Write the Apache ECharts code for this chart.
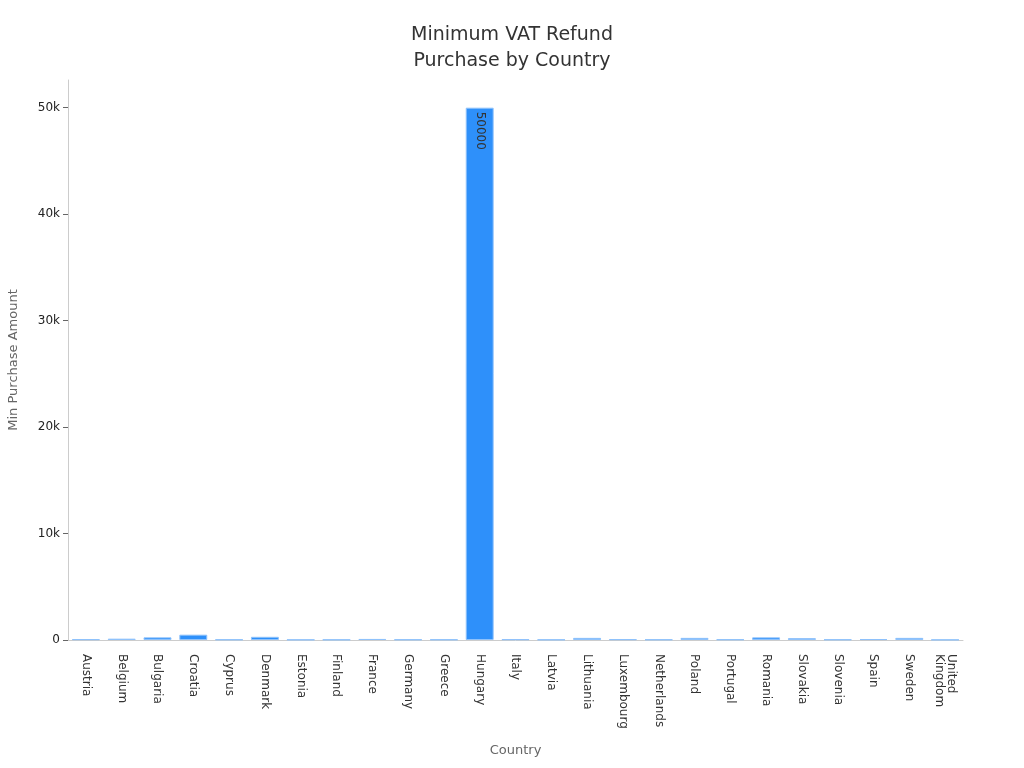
<!DOCTYPE html>
<html>
<head>
<meta charset="utf-8">
<script src="https://cdn.jsdelivr.net/npm/echarts@6/dist/echarts.min.js"></script>
<style>html,body{margin:0;padding:0;background:#fff}#c{width:1024px;height:768px}</style>
</head>
<body>
<div id="c"></div>
<script>
const categories = ["Austria","Belgium","Bulgaria","Croatia","Cyprus","Denmark","Estonia","Finland","France","Germany","Greece","Hungary","Italy","Latvia","Lithuania","Luxembourg","Netherlands","Poland","Portugal","Romania","Slovakia","Slovenia","Spain","Sweden","United\nKingdom"];
const values = [75, 125, 250, 500, 50, 300, 38, 40, 100, 50, 50, 50000, 70, 44, 200, 74, 50, 200, 61, 250, 175, 50, 90, 200, 30];
const yTicks = [0, 10000, 20000, 30000, 40000, 50000];

const chart = echarts.init(document.getElementById('c'));
chart.setOption({
  animation: false,
  title: {
    text: 'Minimum VAT Refund\nPurchase by Country',
    left: 'center', top: 17,
    textStyle: { fontFamily: 'DejaVu Sans', fontSize: 19, fontWeight: 'normal', color: '#333', lineHeight: 26 }
  },
  grid: { left: 68, right: 61, top: 80, bottom: 128, outerBoundsMode: 'none', containLabel: false },
  xAxis: {
    type: 'category',
    data: categories,
    name: 'Country',
    nameLocation: 'middle',
    nameGap: 104,
    nameTextStyle: { fontFamily: 'DejaVu Sans', fontSize: 13, color: '#666' },
    axisLine: { lineStyle: { color: '#ccc' } },
    axisTick: { alignWithLabel: true, lineStyle: { color: '#666' } },
    axisLabel: { rotate: -90, interval: 0, fontFamily: 'DejaVu Sans', fontSize: 12, color: '#333', margin: 14 }
  },
  yAxis: {
    type: 'value',
    min: 0, max: 52600, interval: 10000,
    name: 'Min Purchase Amount',
    nameLocation: 'middle',
    nameGap: 48,
    nameTextStyle: { fontFamily: 'DejaVu Sans', fontSize: 13, color: '#666' },
    axisLine: { show: true, lineStyle: { color: '#ccc' } },
    axisTick: { show: true, lineStyle: { color: '#666' } },
    splitLine: { show: false },
    axisLabel: {
      showMaxLabel: false,
      fontFamily: 'DejaVu Sans', fontSize: 12, color: '#222',
      formatter: v => (yTicks.includes(v) ? (v === 0 ? '0' : (v / 1000) + 'k') : '')
    }
  },
  series: [{
    type: 'bar',
    data: values,
    barWidth: '78%',
    itemStyle: { color: '#2e90fa', borderColor: '#8fc2fb', borderWidth: 1 },
    label: {
      show: true,
      position: 'insideTop',
      rotate: -90,
      align: 'left',
      verticalAlign: 'middle',
      distance: 4,
      fontFamily: 'DejaVu Sans', fontSize: 12, color: '#333',
      formatter: p => (p.value >= 5000 ? String(p.value) : '')
    }
  }]
});
</script>
</body>
</html>
